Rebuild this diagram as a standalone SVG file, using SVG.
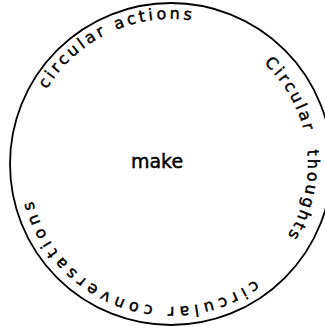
<svg xmlns="http://www.w3.org/2000/svg" xmlns:xlink="http://www.w3.org/1999/xlink" width="325" height="328" viewBox="0 0 325 328">
  <style>
    .lbl { font-family: "DejaVu Sans", "Liberation Sans", sans-serif; fill: #000; stroke: #000; stroke-width: 0.45; }
  </style>
  <defs>
    <path id="pTop" d="M 26,164 A 145 145 0 1 1 316,164 A 145 145 0 1 1 26,164"/>
    <path id="pRight" d="M 34,164 A 137 137 0 1 1 308,164 A 137 137 0 1 1 34,164"/>
    <path id="pBottom" d="M 28,164 A 143 143 0 1 1 314,164 A 143 143 0 1 1 28,164"/>
  </defs>
  <rect width="325" height="328" fill="#fff"/>
  <g id="circle">
    <circle cx="171" cy="164" r="161" fill="none" stroke="#000" stroke-width="1.8"/>
  </g>
  <g id="center">
    <text class="lbl" x="157" y="168" font-size="19" text-anchor="middle">make</text>
  </g>
  <g id="ring-labels">
    <text class="lbl" font-size="16" letter-spacing="3.2"><textPath xlink:href="#pTop" startOffset="78">circular actions</textPath></text>
    <text class="lbl" font-size="16" letter-spacing="2.6" word-spacing="9"><textPath xlink:href="#pRight" startOffset="317">Circular thoughts</textPath></text>
    <text class="lbl" font-size="16" letter-spacing="4.8"><textPath xlink:href="#pBottom" startOffset="584">circular conversations</textPath></text>
  </g>
</svg>
